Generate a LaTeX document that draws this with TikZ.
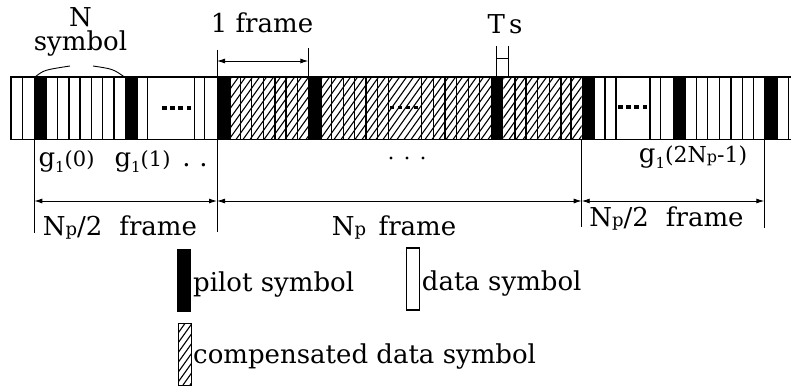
\documentclass[tikz,border=0pt]{standalone}
\usepackage{fontspec}
\setmainfont{DejaVu Serif}
\usetikzlibrary{arrows.meta}
\newcommand\Np{N{\fontsize{18}{18}\selectfont p}}
\newcommand\gone[1]{g\raisebox{-0.22em}{\fontsize{15}{15}\selectfont 1}{\fontsize{21}{21}\selectfont(#1)}}
\begin{document}
\begin{tikzpicture}[x=1pt,y=-1pt,
  lbl/.style={inner sep=0pt, font=\fontsize{26}{28}\selectfont, anchor=base},
  lblw/.style={inner sep=0pt, font=\fontsize{26}{28}\selectfont, anchor=base west},
  cellline/.style={line width=1.2pt},
  border/.style={line width=1.6pt},
  hatchline/.style={line width=1.1pt},
  dimline/.style={line width=0.9pt},
  dimarrow/.style={line width=0.9pt, {Latex[length=8pt,width=5pt]}-{Latex[length=8pt,width=5pt]}},
  pilotcell/.style={fill=black},
  dotmark/.style={fill=black}
]
\useasboundingbox (0,0) rectangle (791,387);
\clip (0,0) rectangle (791,387);
\def\T{77}
\def\B{139.5}
% hatched regions
\begin{scope}
  \clip (230.7,\T) rectangle (308.3,\B) (321.7,\T) rectangle (491,\B) (503.3,\T) rectangle (581.7,\B);
  \foreach \xa in {180,187,...,600}
    \draw[hatchline] (\xa,\B) -- (\xa+44.6,\T);
\end{scope}
% pilots
\foreach \xa/\xb in {34.3/46.7,125/137.7,216.7/230.7,308.3/321.7,491/503.3,581.7/595,672.7/686,764.3/777.7}
  \fill[pilotcell] (\xa,\T) rectangle (\xb,\B);
% cell boundaries
\foreach \xa in {22.7,57.3,69,80,91.7,102.7,114,147.7,194.3,204.3,
                 240.7,251.7,263.3,275,286,297.3,
                 331.7,343.3,354.3,366,377.3,388.3,421.7,433.3,445,456.7,468.3,479.3,
                 515,526,537.7,549.3,561,571,
                 605,616,650,660.7,696.7,707.7,719.3,731,742.7,753.3,788.3}
  \draw[cellline] (\xa,\T) -- (\xa,\B);
\draw[border] (11,\T) rectangle (820,\B);
% dots inside strip
\foreach \xa in {164.5,172.5,180.5,189}
  \fill[dotmark] (\xa-2.2,106) rectangle (\xa+2.2,110);
\foreach \xa in {392,400,408,416}
  \fill[dotmark] (\xa-1.7,106.5) rectangle (\xa+1.7,109.5);
\foreach \xa in {620.5,628.5,636.5,645}
  \fill[dotmark] (\xa-2.2,105) rectangle (\xa+2.2,109);
% N symbol
\node[lbl, align=center, font=\fontsize{26}{24}\selectfont] (nsym) at (80.5,51) {N\\symbol};
\coordinate (br1) at (35,\T);
\coordinate (br2) at (70,66);
\coordinate (br3) at (93,66);
\coordinate (br4) at (124.5,\T);
\draw[dimline] (br1) .. controls (44,70) .. (br2);
\draw[dimline] (br3) .. controls (113,69) .. (br4);
% 1 frame
\node[lbl] (nframe) at (262,33) {1 frame};
\coordinate (fa) at (217,50);
\coordinate (fb) at (308.3,48);
\coordinate (fbb) at (308.3,\T);
\draw[dimline] (fb) -- (fbb);
\draw[dimarrow] (217,61) -- (308.3,61);
% Ts
\node[lbl] (nts) at (505,34) {T\,s};
\coordinate (ta) at (496.7,46);
\coordinate (tab) at (496.7,\T);
\coordinate (tb) at (508.3,46);
\coordinate (tbb) at (508.3,\T);
\draw[dimline] (ta) -- (tab) (tb) -- (tbb);
\draw[dimline] (496.7,58) -- (508.3,58);
% lower vertical lines
\coordinate (v1a) at (34.3,\B);
\coordinate (v1b) at (34.3,233);
\coordinate (v2b) at (217,232);
\coordinate (v3a) at (581.7,\B);
\coordinate (v3b) at (581.7,227);
\coordinate (v4a) at (764.3,\B);
\coordinate (v4b) at (764.3,228);
\draw[dimline] (v1a) -- (v1b);
\draw[dimline] (fa) -- (v2b);
\draw[dimline] (v3a) -- (v3b);
\draw[dimline] (v4a) -- (v4b);
% dimension arrows
\draw[dimarrow] (34.3,201) -- (217,201);
\draw[dimarrow] (217,201) -- (581.7,201);
\draw[dimarrow] (581.7,201) -- (764.3,201);
% labels under strip
\node[lbl] (g0) at (66.5,167) {\gone{0}};
\node[lbl] (g1) at (142.5,167) {\gone{1}};
\node[lbl] (gdots) at (195,167) {.\,\,.};
\foreach \xa in {391,407,423}
  \fill[dotmark] (\xa,158) circle (1.6);
\node[lbl] (g2) at (693,163) {g\raisebox{-0.22em}{\fontsize{15}{15}\selectfont 1}{\fontsize{22}{22}\selectfont(2N{\fontsize{16}{16}\selectfont p}-1)}};
\node[lbl] (d1) at (120,235) {\Np/2\,\, frame};
\node[lbl] (d2) at (394,235) {\Np\, frame};
\node[lbl] (d3) at (666.5,226) {\Np/2\,\, frame};
% legend
\fill[pilotcell] (176.7,249) rectangle (190.7,312);
\node[lblw] (lp) at (193,291) {pilot symbol};
\draw[cellline] (406.7,248) rectangle (419.3,310);
\node[lblw] (ld) at (421.7,290) {data symbol};
\begin{scope}
  \clip (178,323) rectangle (191,385);
  \foreach \xa in {120,127,...,200}
    \draw[hatchline] (\xa,385) -- (\xa+44.3,323);
\end{scope}
\draw[line width=1pt] (178,323) rectangle (191,385);
\node[lblw] (lc) at (193,363) {compensated data symbol};
\end{tikzpicture}
\end{document}
